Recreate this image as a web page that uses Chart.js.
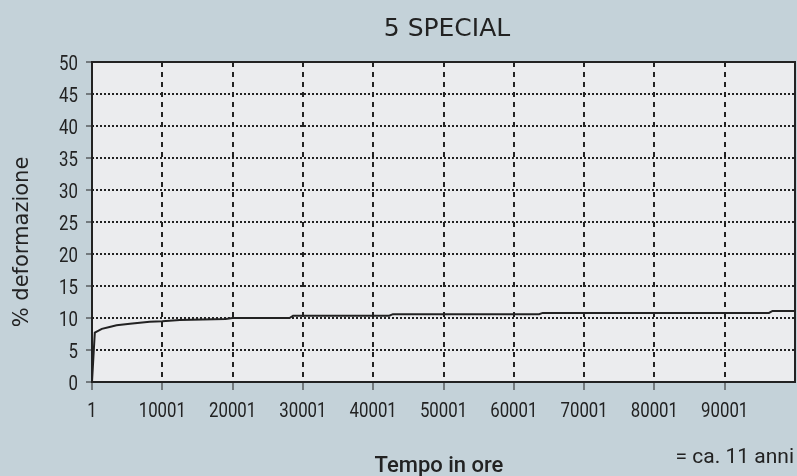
<!DOCTYPE html>
<html>
<head>
<meta charset="utf-8">
<script src="https://cdn.jsdelivr.net/npm/chart.js@4"></script>
<style>
  html, body { margin: 0; padding: 0; background: #c4d2d9; }
  #wrap { width: 797px; height: 476px; }
</style>
</head>
<body>
<div id="wrap"><canvas id="cv" width="797" height="476"></canvas></div>
<script>
// values
const hours = [1, 400, 1400, 2500, 3500, 5400, 8200, 10000, 12500, 19000, 20000, 28100, 28600, 42300, 42800, 63600, 64100, 96300, 96800, 100001];
const deform = [0, 7.7, 8.3, 8.6, 8.85, 9.1, 9.4, 9.5, 9.7, 9.85, 10.0, 10.0, 10.35, 10.35, 10.6, 10.6, 10.8, 10.8, 11.1, 11.1];
const xTicks = [1, 10001, 20001, 30001, 40001, 50001, 60001, 70001, 80001, 90001];
const yTicks = [0, 5, 10, 15, 20, 25, 30, 35, 40, 45, 50];

const INK = '#222';
const NUM_FONT = '21px Roboto, sans-serif';
const SQUEEZE = 0.8; // the original uses a narrow DIN-like face

const points = hours.map((h, i) => ({ x: h, y: deform[i] }));

// narrow tick label, placed from the scale's own pixel positions
function narrowText(ctx, txt, x, y, align) {
  ctx.save();
  ctx.translate(x, y);
  ctx.scale(SQUEEZE, 1);
  ctx.textAlign = align;
  ctx.fillText(txt, 0, 0);
  ctx.restore();
}

// plot background, frame, tick labels and free texts
const decor = {
  id: 'decor',
  beforeDraw(chart) {
    const { ctx, chartArea: a } = chart;
    ctx.save();
    ctx.fillStyle = '#ebecee';
    ctx.fillRect(a.left, a.top, a.right - a.left, a.bottom - a.top);
    ctx.restore();
  },
  afterDraw(chart) {
    const { ctx, chartArea: a, scales } = chart;
    ctx.save();
    ctx.strokeStyle = INK;
    ctx.lineWidth = 2;
    ctx.strokeRect(a.left, a.top, a.right - a.left, a.bottom - a.top);

    ctx.fillStyle = INK;
    ctx.textBaseline = 'alphabetic';
    ctx.font = NUM_FONT;
    xTicks.forEach(v => narrowText(ctx, String(v), scales.x.getPixelForValue(v), a.bottom + 35, 'center'));
    yTicks.forEach(v => narrowText(ctx, String(v), a.left - 14, scales.y.getPixelForValue(v) + 8, 'right'));

    ctx.textAlign = 'center';
    ctx.font = '25px "DejaVu Sans", sans-serif';
    ctx.fillText('5 SPECIAL', 447, 36);

    ctx.font = '500 22px Roboto, sans-serif';
    ctx.fillText('Tempo in ore', 439, 472);

    ctx.font = '21px Roboto, sans-serif';
    ctx.textAlign = 'right';
    ctx.fillText('= ca. 11 anni', 794, 463);

    ctx.translate(28, 242);
    ctx.rotate(-Math.PI / 2);
    ctx.textAlign = 'center';
    ctx.font = '21px "DejaVu Sans", sans-serif';
    ctx.fillText('% deformazione', 0, 0);
    ctx.restore();
  }
};

new Chart(document.getElementById('cv').getContext('2d'), {
  type: 'line',
  data: {
    datasets: [{
      data: points,
      borderColor: INK,
      borderWidth: 2,
      pointRadius: 0,
      tension: 0,
      fill: false
    }]
  },
  options: {
    responsive: false,
    animation: false,
    layout: { padding: { left: 0, right: 2, top: 62, bottom: 0 } },
    plugins: { legend: { display: false }, tooltip: { enabled: false } },
    scales: {
      x: {
        type: 'linear',
        min: 1,
        max: 100001,
        afterBuildTicks(scale) { scale.ticks = xTicks.map(v => ({ value: v })); },
        afterFit(scale) { scale.height = 94; },
        border: { display: false, dash: [5, 5] },
        grid: {
          color: INK,
          lineWidth: 2,
          tickColor: INK,
          tickWidth: 1,
          tickBorderDash: [],
          tickLength: 8
        },
        ticks: { display: false, autoSkip: false }
      },
      y: {
        min: 0,
        max: 50,
        afterBuildTicks(scale) { scale.ticks = yTicks.map(v => ({ value: v })); },
        afterFit(scale) { scale.width = 92; },
        border: { display: false, dash: [2, 2] },
        grid: {
          color: INK,
          lineWidth: 2,
          tickColor: INK,
          tickWidth: 1,
          tickBorderDash: [],
          tickLength: 6
        },
        ticks: { display: false, autoSkip: false }
      }
    }
  },
  plugins: [decor]
});
</script>
</body>
</html>
